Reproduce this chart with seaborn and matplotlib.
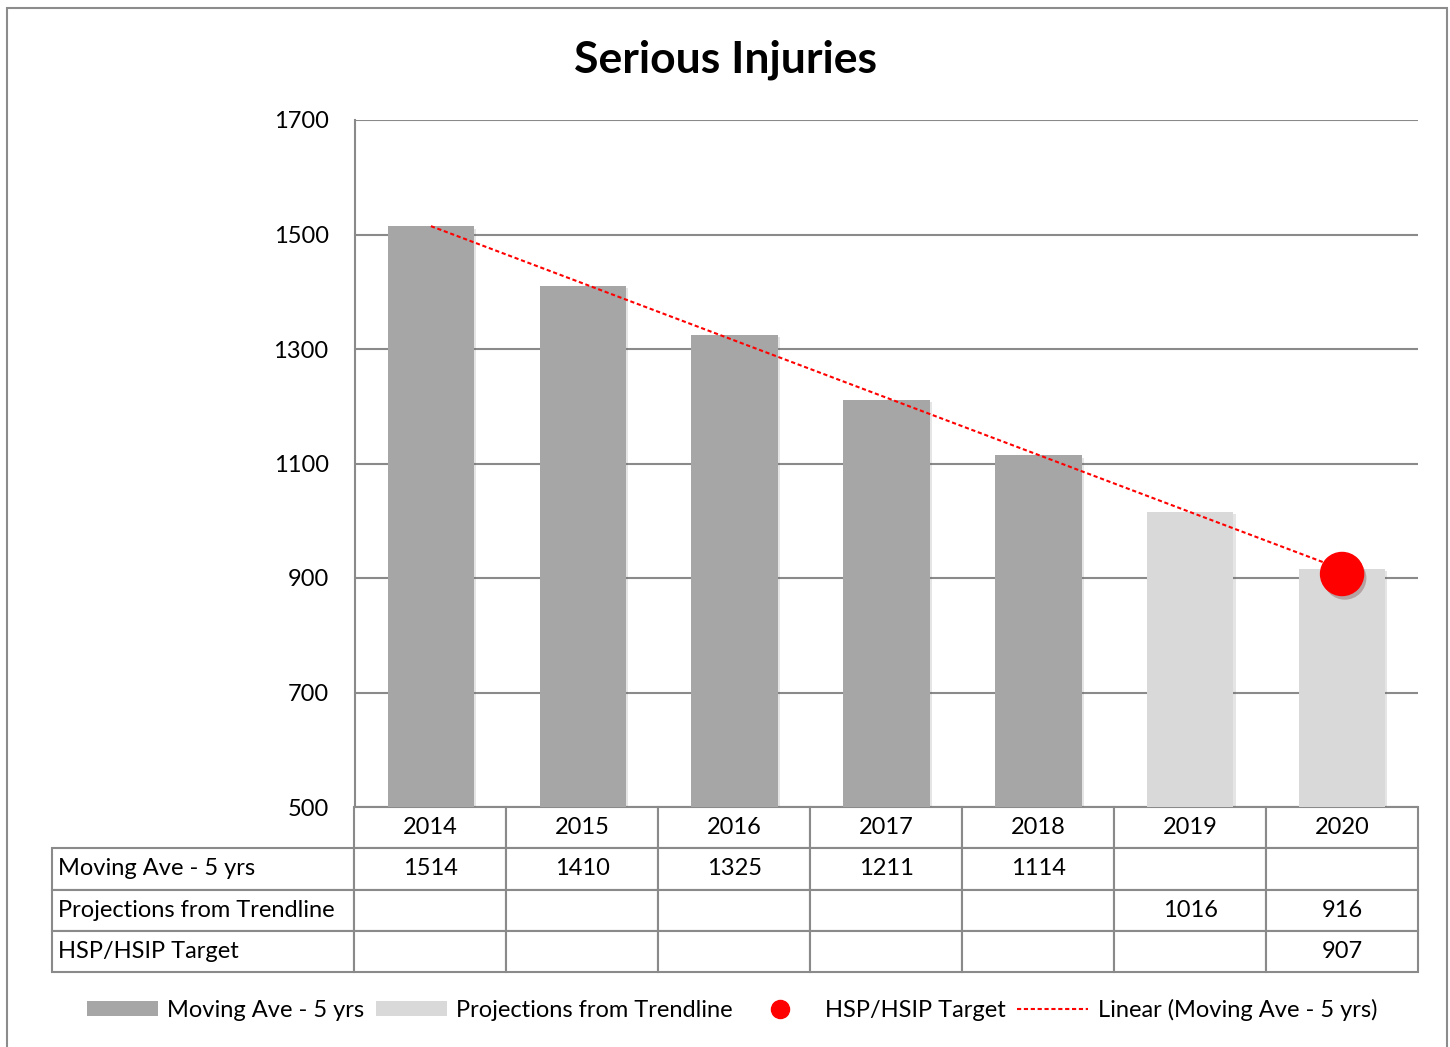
import numpy as np
import pandas as pd
import matplotlib
matplotlib.use("Agg")
import matplotlib.pyplot as plt
import seaborn as sns
from matplotlib.patches import Rectangle, Patch
from matplotlib.lines import Line2D
from matplotlib.table import Table
import matplotlib.patheffects as pe

years = ["2014", "2015", "2016", "2017", "2018", "2019", "2020"]
moving_ave = [1514, 1410, 1325, 1211, 1114, np.nan, np.nan]
projections = [np.nan, np.nan, np.nan, np.nan, np.nan, 1016, 916]
target = [np.nan, np.nan, np.nan, np.nan, np.nan, np.nan, 907]
row_labels = ["Moving Ave - 5 yrs", "Projections from Trendline", "HSP/HSIP Target"]
yticks = [500, 700, 900, 1100, 1300, 1500, 1700]

sns.set_theme(style="white")
FONT = ["Lato", "DejaVu Sans"]
plt.rcParams["font.family"] = FONT
for k in ["text.color", "axes.labelcolor", "xtick.color", "ytick.color"]:
    plt.rcParams[k] = "black"

DARK = "#a6a6a6"
LIGHT = "#d9d9d9"
GRID = "#8a8a8a"
RED = "#ff0000"
FS = 17
DASH = (0, (2, 1.3))

fig = plt.figure(figsize=(14.5, 10.47), dpi=100)
ax = fig.add_axes([355/1450, 1-807/1047, (1418-355)/1450, (807-120)/1047])

df = pd.DataFrame({
    "year": years * 2,
    "value": moving_ave + projections,
    "series": [row_labels[0]] * 7 + [row_labels[1]] * 7,
})
sns.barplot(data=df, x="year", y="value", hue="series", dodge=False,
            palette=[DARK, LIGHT], width=0.57, ax=ax, legend=False,
            saturation=1, linewidth=0, zorder=3)
for p in ax.patches:
    p.set_path_effects([pe.SimplePatchShadow(offset=(1.5, -1.5), alpha=0.15,
                                             shadow_rgbFace="#555555"), pe.Normal()])

# Linear trendline fitted on moving averages
xi = np.arange(len(years))
ma = np.array(moving_ave, dtype=float)
mask = ~np.isnan(ma)
coef = np.polyfit(xi[mask], ma[mask], 1)
ax.plot(xi, np.polyval(coef, xi), color=RED, lw=1.5, ls=DASH, zorder=5)

# Target point
ax.plot(xi, target, "o", color=RED, ms=31, zorder=6,
        path_effects=[pe.SimplePatchShadow(offset=(2, -3), alpha=0.25), pe.Normal()])

ax.set_ylim(500, 1700)
ax.set_xlim(-0.5, 6.5)
ax.set_yticks(yticks)
ax.set_yticklabels([str(t) for t in yticks], fontsize=FS)
ax.tick_params(axis="y", length=0, pad=19)
ax.tick_params(axis="x", length=0, labelbottom=False)
ax.set_xlabel("")
ax.set_ylabel("")
ax.grid(axis="y", color=GRID, lw=1.5, zorder=0)
ax.set_axisbelow(True)
for s in ["top", "right", "bottom"]:
    ax.spines[s].set_visible(False)
ax.spines["left"].set_color(GRID)
ax.spines["left"].set_linewidth(1.5)

def fmt(v):
    return "" if np.isnan(v) else str(int(v))

cell_text = [[fmt(v) for v in moving_ave],
             [fmt(v) for v in projections],
             [fmt(v) for v in target]]
left_ax = (52 - 355) / (1418 - 355)
tbl_h = (972 - 807) / (807 - 120)
tbl = Table(ax, bbox=[left_ax, -tbl_h, 1 - left_ax, tbl_h])
LW, CW = 302, 151.9
for j, y in enumerate(years):
    tbl.add_cell(0, j + 1, width=CW, height=1, text=y, loc="center")
for i, lab in enumerate(row_labels):
    c = tbl.add_cell(i + 1, 0, width=LW, height=1, text=lab, loc="left")
    c.PAD = 0.02
    for j in range(len(years)):
        tbl.add_cell(i + 1, j + 1, width=CW, height=1, text=cell_text[i][j], loc="center")
tbl.auto_set_font_size(False)
tbl.set_fontsize(FS)
for (r, c), cell in tbl.get_celld().items():
    cell.set_edgecolor(GRID)
    cell.set_linewidth(1.5)
    cell.get_text().set_fontfamily(FONT)
    cell.get_text().set_color("black")
ax.add_table(tbl)

fig.text(726/1450, 1-60/1047, "Serious Injuries", ha="center", va="center",
         fontsize=32, fontweight="bold", color="black")

handles = [
    Patch(facecolor=DARK, edgecolor="none", label=row_labels[0]),
    Patch(facecolor=LIGHT, edgecolor="none", label=row_labels[1]),
    Line2D([], [], marker="o", color=RED, ls="none", ms=13, label=row_labels[2]),
    Line2D([], [], color=RED, lw=1.5, ls=DASH, label="Linear (Moving Ave - 5 yrs)"),
]
fig.legend(handles=handles, loc="center", bbox_to_anchor=(732/1450, 1-1010/1047),
           ncol=4, frameon=False, fontsize=FS, handlelength=3.0,
           handleheight=0.6, handletextpad=0.4, columnspacing=0.5)

fig.patches.append(Rectangle((7/1450, -0.02), (1447-7)/1450, 1-8/1047+0.02,
                             transform=fig.transFigure, fill=False,
                             edgecolor="#8c8c8c", lw=1.5))

fig.savefig("out.png", dpi=100)
